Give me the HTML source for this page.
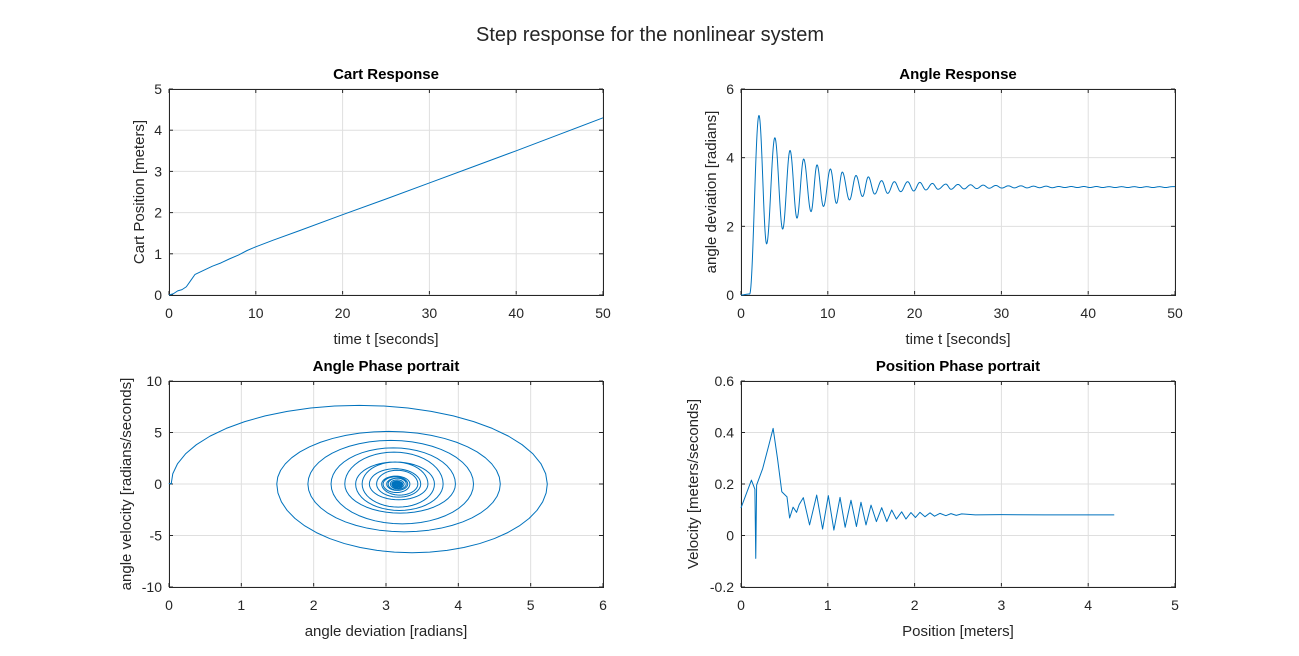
<!DOCTYPE html>
<html><head><meta charset="utf-8"><style>
html,body{margin:0;padding:0;background:#fff;}
svg{display:block;font-family:"Liberation Sans","DejaVu Sans",sans-serif;}
</style></head><body>
<svg id="fig" width="1299" height="656" viewBox="0 0 1299 656">
<rect x="0" y="0" width="1299" height="656" fill="#fff"/>
<text x="650" y="41" text-anchor="middle" font-size="20" fill="#262626">Step response for the nonlinear system</text>
</svg>
<script>
// Cart response
const cartT = [0,0.5,1,1.5,2,2.5,3,4,5,6,7,8,9,10,12,15,20,25,30,35,40,45,50];
const cartPos = [0,0.03,0.1,0.13,0.2,0.35,0.5,0.6,0.7,0.78,0.88,0.97,1.08,1.17,1.33,1.56,1.95,2.33,2.72,3.11,3.5,3.9,4.3];
// Angle response extrema
const anglePeakT = [2.07,3.9,5.65,7.22,8.76,10.3,11.67,13.25,14.67,16.2,17.67,19.2,20.6,22.05,23.6,25.0,26.45,27.9,29.35,30.8,32.25,33.7,35.15,36.6,38.05,39.5,40.95,42.4,43.85,45.3,46.75,48.2,49.65];
const anglePeakV = [5.23,4.58,4.21,3.96,3.79,3.67,3.58,3.48,3.44,3.33,3.30,3.30,3.28,3.25,3.23,3.22,3.21,3.20,3.19,3.18,3.18,3.17,3.17,3.16,3.16,3.16,3.16,3.155,3.155,3.155,3.155,3.155,3.155];
const angleTroughT = [2.95,4.8,6.45,8.07,9.5,11.0,12.5,14.0,15.4,16.9,18.4,19.9,21.3,22.7,24.2,25.7,27.15,28.6,30.05,31.5,32.95,34.4,35.85,37.3,38.75,40.2,41.65,43.1,44.55,46.0,47.45,48.9];
const angleTroughV = [1.49,1.92,2.24,2.43,2.58,2.67,2.77,2.87,2.94,2.96,3.01,3.03,3.06,3.08,3.08,3.09,3.10,3.11,3.115,3.12,3.12,3.125,3.125,3.13,3.13,3.13,3.13,3.13,3.13,3.13,3.13,3.13];
const angleStartT = [0,1.0];
const angleStartV = [0,0.03];
// Position phase portrait
const posX = [0,0.07,0.12,0.16,0.17,0.18,0.25,0.32,0.37,0.42,0.47,0.53,0.56,0.6,0.64,0.67,0.718,0.79,0.872,0.94,1.006,1.07,1.141,1.2,1.267,1.33,1.382,1.44,1.498,1.56,1.621,1.68,1.736,1.79,1.851,1.9,1.958,2.01,2.062,2.12,2.177,2.23,2.293,2.36,2.419,2.48,2.542,2.7,3.0,3.5,4.0,4.3];
const posVel = [0.107,0.17,0.215,0.18,-0.089,0.196,0.26,0.35,0.416,0.3,0.17,0.15,0.068,0.11,0.09,0.12,0.147,0.041,0.157,0.025,0.155,0.021,0.148,0.032,0.137,0.035,0.129,0.041,0.118,0.054,0.108,0.054,0.099,0.064,0.092,0.064,0.089,0.07,0.09,0.073,0.088,0.075,0.086,0.077,0.085,0.078,0.084,0.08,0.081,0.08,0.08,0.08];

const NS="http://www.w3.org/2000/svg";
const svg=document.getElementById('fig');
function el(tag,attrs,parent){const e=document.createElementNS(NS,tag);for(const k in attrs)e.setAttribute(k,attrs[k]);(parent||svg).appendChild(e);return e;}

function makeAxes(o){
  const g=el('g',{});
  
  
  const sx=v=>o.L+(v-o.xmin)/(o.xmax-o.xmin)*(o.R-o.L);
  const sy=v=>o.B-(v-o.ymin)/(o.ymax-o.ymin)*(o.B-o.T);
  el('rect',{x:o.L,y:o.T,width:o.R-o.L,height:o.B-o.T,fill:'#fff'},g);
  o.xticks.forEach(v=>{const x=sx(v);
    el('line',{x1:x,x2:x,y1:o.T,y2:o.B,stroke:'#dfdfdf','stroke-width':1},g);
    el('line',{x1:x,x2:x,y1:o.B,y2:o.B-4,stroke:'#262626'},g);
    el('line',{x1:x,x2:x,y1:o.T,y2:o.T+4,stroke:'#262626'},g);
    const t=el('text',{x:x,y:o.B+23,'text-anchor':'middle','font-size':14,fill:'#262626'},g);t.textContent=v;
    
    
  });
  o.yticks.forEach(v=>{const y=sy(v);
    el('line',{x1:o.L,x2:o.R,y1:y,y2:y,stroke:'#dfdfdf','stroke-width':1},g);
    el('line',{x1:o.L,x2:o.L+4,y1:y,y2:y,stroke:'#262626'},g);
    el('line',{x1:o.R,x2:o.R-4,y1:y,y2:y,stroke:'#262626'},g);
    const t=el('text',{x:o.L-7,y:y+5,'text-anchor':'end','font-size':14,fill:'#262626'},g);t.textContent=v;
    
    
  });
  el('rect',{x:o.L+0.5,y:o.T+0.5,width:o.R-o.L,height:o.B-o.T,fill:'none',stroke:'#262626','stroke-width':1},g);
  const tt=el('text',{x:(o.L+o.R)/2,y:o.T-10,'text-anchor':'middle','font-size':15,'font-weight':'bold',fill:'#000'},g);tt.textContent=o.title;
  
  
  const xl=el('text',{x:(o.L+o.R)/2,y:o.B+49,'text-anchor':'middle','font-size':15,fill:'#262626'},g);xl.textContent=o.xlabel;
  
  
  const cy=(o.T+o.B)/2;
  const yl=el('text',{x:o.ylx,y:cy,'text-anchor':'middle','font-size':15,fill:'#262626',transform:`rotate(-90 ${o.ylx} ${cy})`},g);yl.textContent=o.ylabel;
  
  
  return {g,sx,sy,o};
}
function drawLine(ax,xs,ys,name){
  let d='';
  for(let i=0;i<xs.length;i++){d+=(i?'L':'M')+ax.sx(xs[i]).toFixed(2)+','+ax.sy(ys[i]).toFixed(2);}
  const p=el('path',{d:d,fill:'none',stroke:'#0072bd','stroke-width':1,'stroke-linejoin':'round'},ax.g);
  
  
}

const extT=[...angleStartT], extV=[...angleStartV];
for(let i=0;i<anglePeakT.length;i++){
  extT.push(anglePeakT[i]);extV.push(anglePeakV[i]);
  if(i<angleTroughT.length){extT.push(angleTroughT[i]);extV.push(angleTroughV[i]);}
}
const aT=[],aV=[],aD=[];
for(let i=0;i<extT.length-1;i++){
  const t0=extT[i],t1=extT[i+1],v0=extV[i],v1=extV[i+1];
  const n=24;
  for(let k=(i?1:0);k<=n;k++){const s=k/n;
    aT.push(t0+(t1-t0)*s);
    aV.push(v0+(v1-v0)*(1-Math.cos(Math.PI*s))/2);
    aD.push((v1-v0)*Math.PI/2*Math.sin(Math.PI*s)/(t1-t0));
  }
}
const lastT=extT[extT.length-1];
if(lastT<50){aT.push(50);aV.push(extV[extV.length-1]);aD.push(0);}

const ax1=makeAxes({name:'cart-response-axes',L:169,R:603,T:89,B:295,xmin:0,xmax:50,ymin:0,ymax:5,xticks:[0,10,20,30,40,50],yticks:[0,1,2,3,4,5],title:'Cart Response',xlabel:'time t [seconds]',ylabel:'Cart Position [meters]',ylx:144});
drawLine(ax1,cartT,cartPos,'cart-position-line');
const ax2=makeAxes({name:'angle-response-axes',L:741,R:1175,T:89,B:295,xmin:0,xmax:50,ymin:0,ymax:6,xticks:[0,10,20,30,40,50],yticks:[0,2,4,6],title:'Angle Response',xlabel:'time t [seconds]',ylabel:'angle deviation [radians]',ylx:716});
drawLine(ax2,aT,aV,'angle-line');
const ax3=makeAxes({name:'angle-phase-axes',L:169,R:603,T:381,B:587,xmin:0,xmax:6,ymin:-10,ymax:10,xticks:[0,1,2,3,4,5,6],yticks:[-10,-5,0,5,10],title:'Angle Phase portrait',xlabel:'angle deviation [radians]',ylabel:'angle velocity [radians/seconds]',ylx:131});
drawLine(ax3,aV,aD,'angle-phase-line');
const ax4=makeAxes({name:'position-phase-axes',L:741,R:1175,T:381,B:587,xmin:0,xmax:5,ymin:-0.2,ymax:0.6,xticks:[0,1,2,3,4,5],yticks:[-0.2,0,0.2,0.4,0.6],title:'Position Phase portrait',xlabel:'Position [meters]',ylabel:'Velocity [meters/seconds]',ylx:698});
drawLine(ax4,posX,posVel,'position-phase-line');
</script>
</body></html>
